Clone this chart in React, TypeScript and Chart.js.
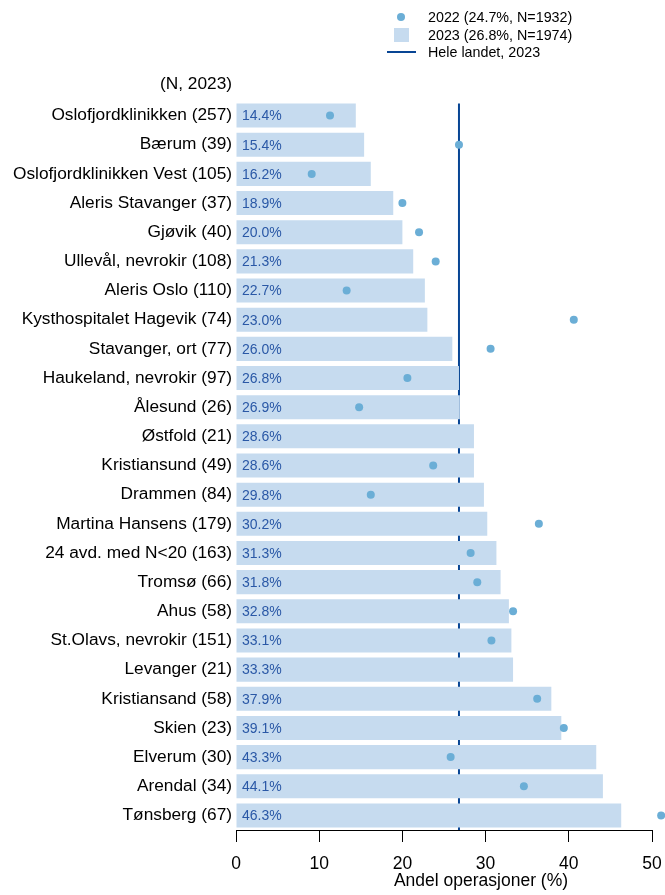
import React, { useEffect, useRef } from 'react';
import { Chart, registerables } from 'chart.js';

Chart.register(...registerables);

const categories = [
  'Oslofjordklinikken (257)',
  'Bærum (39)',
  'Oslofjordklinikken Vest (105)',
  'Aleris Stavanger (37)',
  'Gjøvik (40)',
  'Ullevål, nevrokir (108)',
  'Aleris Oslo (110)',
  'Kysthospitalet Hagevik (74)',
  'Stavanger, ort (77)',
  'Haukeland, nevrokir (97)',
  'Ålesund (26)',
  'Østfold (21)',
  'Kristiansund (49)',
  'Drammen (84)',
  'Martina Hansens (179)',
  '24 avd. med N<20 (163)',
  'Tromsø (66)',
  'Ahus (58)',
  'St.Olavs, nevrokir (151)',
  'Levanger (21)',
  'Kristiansand (58)',
  'Skien (23)',
  'Elverum (30)',
  'Arendal (34)',
  'Tønsberg (67)',
];

const values2023 = [
  14.4, 15.4, 16.2, 18.9, 20.0, 21.3, 22.7, 23.0, 26.0, 26.8, 26.9, 28.6, 28.6,
  29.8, 30.2, 31.3, 31.8, 32.8, 33.1, 33.3, 37.9, 39.1, 43.3, 44.1, 46.3,
];

const values2022: (number | null)[] = [
  11.3, 26.8, 9.1, 20.0, 22.0, 24.0, 13.3, 40.6, 30.6, 20.6, 14.8, null, 23.7,
  16.2, 36.4, 28.2, 29.0, 33.3, 30.7, null, 36.2, 39.4, 25.8, 34.6, 51.1,
];

const xTicks = [0, 10, 20, 30, 40, 50];
const nationalAverage2023 = 26.8;
const legendLabels = ['2022 (24.7%, N=1932)', '2023 (26.8%, N=1974)', 'Hele landet, 2023'];
const axisTitle = 'Andel operasjoner (%)';
const headerLabel = '(N, 2023)';

const FONT = "'Liberation Sans', Arial, Helvetica, sans-serif";
const BAR_COLOR = '#c6dbef';
const POINT_COLOR = '#6baed6';
const LINE_COLOR = '#084594';
const LABEL_COLOR = '#2a58a6';

export default function App() {
  const canvasRef = useRef<HTMLCanvasElement | null>(null);

  useEffect(() => {
    if (!canvasRef.current) return;

    const refLinePlugin = {
      id: 'refLine',
      beforeDatasetsDraw(chart: any) {
        const { ctx, chartArea } = chart;
        const xs = chart.scales.x;
        const ys = chart.scales.y;
        const x = xs.getPixelForValue(nationalAverage2023);
        const band = ys.getPixelForValue(1) - ys.getPixelForValue(0);
        const top = ys.getPixelForValue(0) - band * 0.41;
        ctx.save();
        ctx.strokeStyle = LINE_COLOR;
        ctx.lineWidth = 2;
        ctx.beginPath();
        ctx.moveTo(x, top);
        ctx.lineTo(x, chartArea.bottom);
        ctx.stroke();
        ctx.restore();
      },
    };

    const labelsPlugin = {
      id: 'extras',
      afterDatasetsDraw(chart: any) {
        const { ctx, chartArea } = chart;
        const xs = chart.scales.x;
        const ys = chart.scales.y;
        // draw points lying beyond the axis maximum (library skips them)
        const meta = chart.getDatasetMeta(0);
        const bigArea = { left: -1e4, right: 1e4, top: -1e4, bottom: 1e4 };
        meta.data.forEach((el: any) => {
          if (!el.skip && (el.x > chartArea.right + 3 || el.x < chartArea.left - 3)) {
            el.draw(ctx, bigArea);
          }
        });
        ctx.save();
        ctx.font = `14px ${FONT}`;
        ctx.fillStyle = LABEL_COLOR;
        ctx.textAlign = 'left';
        ctx.textBaseline = 'middle';
        values2023.forEach((v, i) => {
          ctx.fillText(v.toFixed(1) + '%', xs.getPixelForValue(0) + 6, ys.getPixelForValue(i) + 1);
        });
        ctx.restore();
      },
      afterDraw(chart: any) {
        const { ctx, chartArea } = chart;
        ctx.save();
        // header
        ctx.font = `17.3px ${FONT}`;
        ctx.fillStyle = '#000';
        ctx.textAlign = 'right';
        ctx.textBaseline = 'middle';
        ctx.fillText(headerLabel, chartArea.left - 4, chartArea.top - 17);
        // x-axis title (offset to the right as in the original)
        ctx.font = `17.5px ${FONT}`;
        ctx.textAlign = 'center';
        ctx.textBaseline = 'alphabetic';
        ctx.fillText(axisTitle, 481, 886);
        // legend
        const mx = 401;
        const tx = 428;
        const rows = [17, 35, 52];
        ctx.font = `14.3px ${FONT}`;
        ctx.textAlign = 'left';
        ctx.textBaseline = 'middle';
        ctx.fillStyle = '#000';
        rows.forEach((y, i) => ctx.fillText(legendLabels[i], tx, y + 1));
        ctx.fillStyle = POINT_COLOR;
        ctx.beginPath();
        ctx.arc(mx, rows[0], 4, 0, Math.PI * 2);
        ctx.fill();
        ctx.fillStyle = BAR_COLOR;
        ctx.fillRect(mx - 7, rows[1] - 7, 15, 14);
        ctx.strokeStyle = LINE_COLOR;
        ctx.lineWidth = 2;
        ctx.beginPath();
        ctx.moveTo(387, rows[2]);
        ctx.lineTo(416, rows[2]);
        ctx.stroke();
        ctx.restore();
      },
    };

    const chart = new Chart(canvasRef.current, {
      type: 'bar',
      data: {
        labels: categories,
        datasets: [
          {
            type: 'line',
            label: legendLabels[0],
            data: values2022,
            indexAxis: 'y',
            showLine: false,
            pointRadius: 4,
            pointHoverRadius: 4,
            pointBackgroundColor: POINT_COLOR,
            pointBorderWidth: 0,
            borderColor: POINT_COLOR,
            backgroundColor: POINT_COLOR,
            clip: false,
            order: 0,
          } as any,
          {
            type: 'bar',
            label: legendLabels[1],
            data: values2023,
            backgroundColor: BAR_COLOR,
            borderWidth: 0,
            barPercentage: 0.825,
            categoryPercentage: 1,
            order: 1,
          },
        ],
      },
      options: {
        indexAxis: 'y',
        responsive: false,
        animation: false,
        events: [],
        layout: { padding: { top: 101, right: 13, left: 0, bottom: 0 } },
        plugins: {
          legend: { display: false },
          tooltip: { enabled: false },
        },
        scales: {
          x: {
            type: 'linear',
            position: 'bottom',
            min: 0,
            max: 50,
            afterBuildTicks: (scale: any) => {
              scale.ticks = xTicks.map((v) => ({ value: v }));
            },
            afterFit: (scale: any) => {
              scale.height = 65;
              scale.paddingLeft = 0;
              scale.paddingRight = 0;
            },
            ticks: {
              color: '#000',
              font: { family: FONT, size: 17.5 },
              padding: 12,
              maxRotation: 0,
            },
            grid: {
              drawOnChartArea: false,
              drawTicks: true,
              tickLength: 12,
              color: '#000',
              lineWidth: 1,
            },
            border: { display: true, color: '#000', width: 1 },
            title: { display: false, text: axisTitle },
          },
          y: {
            type: 'category',
            offset: true,
            afterFit: (scale: any) => {
              scale.width = 236;
            },
            ticks: {
              color: '#000',
              font: { family: FONT, size: 17.3 },
              padding: 4,
              autoSkip: false,
            },
            grid: { display: false, drawTicks: false },
            border: { display: false },
          },
        },
      } as any,
      plugins: [refLinePlugin, labelsPlugin],
    });

    return () => chart.destroy();
  }, []);

  return (
    <div style={{ position: 'absolute', left: 0, top: 0, width: 665, height: 895, background: '#fff' }}>
      <canvas ref={canvasRef} width={665} height={895} style={{ width: 665, height: 895, display: 'block' }} />
    </div>
  );
}
